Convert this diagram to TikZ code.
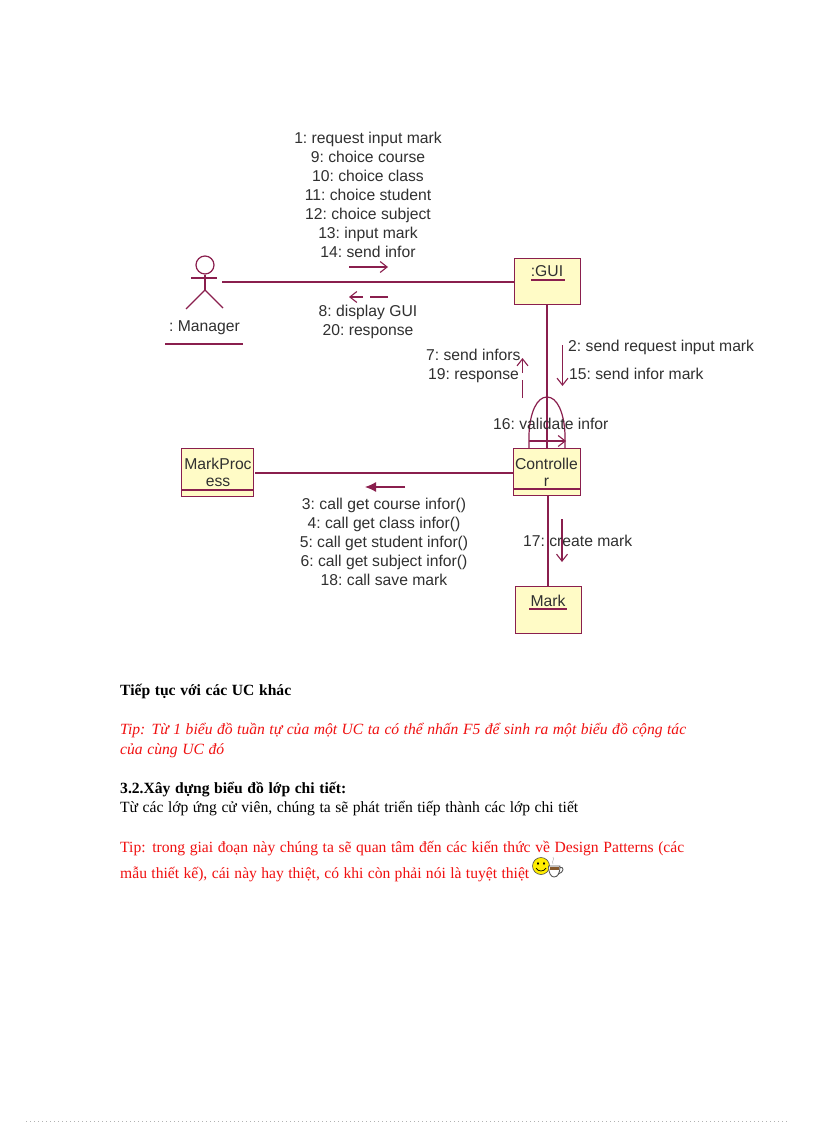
\documentclass[tikz,border=0pt]{standalone}
\usepackage{fontspec}
\setmainfont{Liberation Serif}
\newfontfamily\diagfont{Liberation Sans}
\usetikzlibrary{arrows.meta}
\definecolor{umlline}{HTML}{8A1F4E}
\definecolor{umlfill}{HTML}{FFFBC6}
\definecolor{umltext}{HTML}{303030}
\definecolor{tipred}{HTML}{F01010}
\tikzset{
  umlbox/.style={draw=umlline,fill=umlfill,line width=1.2pt,inner sep=0pt,anchor=north west},
  umlink/.style={draw=umlline,line width=1.2pt},
  msgline/.style={draw=umlline,line width=1.1pt,-{Straight Barb[length=7pt,width=11pt]}},
  msgfill/.style={draw=umlline,line width=1.2pt,-{Latex[length=11pt,width=10pt]}},
  lbl/.style={font=\diagfont\fontsize{15.7}{19}\selectfont\frenchspacing,text=umltext,align=center,inner sep=0pt},
  lblleft/.style={lbl,anchor=west,text height=10pt,text depth=0pt},
  pagetxt/.style={font=\fontsize{15.6}{18}\selectfont,anchor=west,inner sep=0pt,text=black},
}
\begin{document}
\begin{tikzpicture}[x=1pt,y=-1pt]
\useasboundingbox (0,0) rectangle (816,1123);
\fill[white] (0,0) rectangle (816,1123);

% actor
\node[draw=umlline,line width=1.2pt,circle,minimum size=18pt,inner sep=0pt] (head) at (205,265) {};
\coordinate (armL) at (191,278);
\coordinate (armR) at (217,278);
\coordinate (hip) at (205,290);
\coordinate (legL) at (186,309);
\coordinate (legR) at (223,308);
\draw[umlink] (head.south) -- (hip);
\draw[umlink] (armL) -- (armR);
\draw[umlink] (legL) -- (hip) -- (legR);
\node[lbl] (manager) at (204.5,327.5) {: Manager};
\coordinate (mgrUL) at (165,344);
\coordinate (mgrUR) at (243,344);
\draw[umlink] (mgrUL) -- (mgrUR);
\coordinate (actorEnd) at (222,282);

% boxes
\node[umlbox,minimum width=66pt,minimum height=46pt] (gui) at (514,258) {};
\node[umlbox,minimum width=66.5pt,minimum height=47pt] (ctrl) at (513,448) {};
\node[umlbox,minimum width=72pt,minimum height=48pt] (proc) at (181,448) {};
\node[umlbox,minimum width=66pt,minimum height=47pt] (mark) at (515,586) {};

\draw[umlink] (ctrl.north west |- 0,489) -- (ctrl.north east |- 0,489);
\draw[umlink] (proc.north west |- 0,490) -- (proc.north east |- 0,490);

% box labels
\node[lbl] (guitxt) at (547,271.5) {:GUI};
\draw[umlink] (531,280) -- (565,280);
\node[lbl] (ctrl1) at (546.5,463.5) {Controlle};
\node[lbl] (ctrl2) at (546.5,482.5) {r};
\node[lbl] (proc1) at (218,463.5) {MarkProc};
\node[lbl] (proc2) at (218,482.5) {ess};
\node[lbl] (marktxt) at (548,600.5) {Mark};
\draw[umlink] (529,609) -- (567,609);

% associations
\draw[umlink] (actorEnd) -- (gui.west |- actorEnd);
\coordinate (procEnd) at (255,473);
\draw[umlink] (procEnd) -- (ctrl.west |- procEnd);
\draw[umlink] (547,304) coordinate (guiS) -- (547,448) coordinate (ctrlN);
\draw[umlink] (548,496) coordinate (ctrlS) -- (548,586) coordinate (markN);

% self link
\coordinate (selfL) at (529,448);
\coordinate (selfR) at (565,448);
\coordinate (selfTop) at (547,397);
\draw[umlink] (selfL) -- (529,434) .. controls (530,412) and (537,397) .. (selfTop)
  .. controls (557,397) and (564,412) .. (565,434) -- (selfR);

% message arrows
\coordinate (m1a) at (349,267); \coordinate (m1b) at (388,267);
\draw[msgline] (m1a) -- (m1b);
\coordinate (m8a) at (388,297); \coordinate (m8b) at (349,297);
\draw[msgline,dash pattern=on 18pt off 7pt on 40pt] (m8a) -- (m8b);
\coordinate (m2a) at (562.5,345); \coordinate (m2b) at (562.5,386);
\draw[msgline] (m2a) -- (m2b);
\coordinate (m7a) at (522.5,398); \coordinate (m7b) at (522.5,358);
\draw[msgline,dash pattern=on 18pt off 7pt on 40pt] (m7a) -- (m7b);
\coordinate (m16a) at (529,441); \coordinate (m16b) at (566,441);
\draw[msgline] (m16a) -- (m16b);
\coordinate (m3a) at (405,487); \coordinate (m3b) at (365,487);
\draw[msgfill] (m3a) -- (m3b);
\coordinate (m17a) at (562,519); \coordinate (m17b) at (562,562);
\draw[msgline] (m17a) -- (m17b);

% message labels
\node[lbl] (t1) at (368,195) {1: request input mark\\9: choice course\\10: choice class\\11: choice student\\12: choice subject\\13: input mark\\14: send infor};
\node[lbl] (t8) at (368,322) {8: display GUI\\20: response};
\node[lblleft] (t2) at (568,346) {2: send request input mark};
\node[lblleft] (t15) at (569,374) {15: send infor mark};
\node[lblleft] (t7) at (426,355) {7: send infors};
\node[lblleft] (t19) at (428,374) {19: response};
\node[lblleft] (t16) at (493,424) {16: validate infor};
\node[lbl] (t3) at (384,542) {3: call get course infor()\\4: call get class infor()\\5: call get student infor()\\6: call get subject infor()\\18: call save mark};
\node[lblleft] (t17) at (523,541) {17: create mark};

% page text
\node[pagetxt] (p1) at (120,691) {\makebox[171pt][s]{\bfseries Tiếp tục với các UC khác}};
\node[pagetxt,text=tipred] (p2) at (120,731) {\makebox[566pt][s]{\itshape Tip: Từ 1 biểu đồ tuần tự của một UC ta có thể nhấn F5 để sinh ra một biểu đồ cộng tác}};
\node[pagetxt,text=tipred] (p3) at (120,751) {\makebox[104pt][s]{\itshape của cùng UC đó}};
\node[pagetxt] (p4) at (120,790) {\makebox[226pt][s]{\bfseries 3.2.Xây dựng biểu đồ lớp chi tiết:}};
\node[pagetxt] (p5) at (120,809) {\makebox[458pt][s]{Từ các lớp ứng cử viên, chúng ta sẽ phát triển tiếp thành các lớp chi tiết}};
\node[pagetxt,text=tipred] (p6) at (120,849) {\makebox[564pt][s]{Tip: trong giai đoạn này chúng ta sẽ quan tâm đến các kiến thức về Design Patterns (các}};
\node[pagetxt,text=tipred] (p7) at (120,874) {\makebox[409pt][s]{mẫu thiết kế), cái này hay thiệt, có khi còn phải nói là tuyệt thiệt}};

% smiley and cup
\draw[fill=yellow!95!orange,draw=black!70,line width=.6pt] (541,866) circle (8.5);
\fill[black] (538,863.5) ellipse (1 and 1.6);
\fill[black] (544,863.5) ellipse (1 and 1.6);
\draw[black,line width=.7pt] (536,868) .. controls (538,872) and (544,872) .. (546,868);
\draw[fill=white,draw=black!65,line width=.9pt] (548.5,866) -- (560,866) .. controls (560,873) and (558,877) .. (554,877) .. controls (551,877) and (548.5,873) .. (548.5,866) -- cycle;
\fill[brown!70!black] (550,867) rectangle (558.5,870);
\draw[black!65,line width=.9pt] (560,867.5) .. controls (564.5,866) and (564,873) .. (558,874);
\draw[black!25,line width=.6pt] (553,864) .. controls (551,861) and (555,860) .. (553,857);

% footer dots
\draw[black!30,line width=.6pt,dash pattern=on 1pt off 3pt] (26,1121.5) -- (790,1121.5);
\end{tikzpicture}
\end{document}
